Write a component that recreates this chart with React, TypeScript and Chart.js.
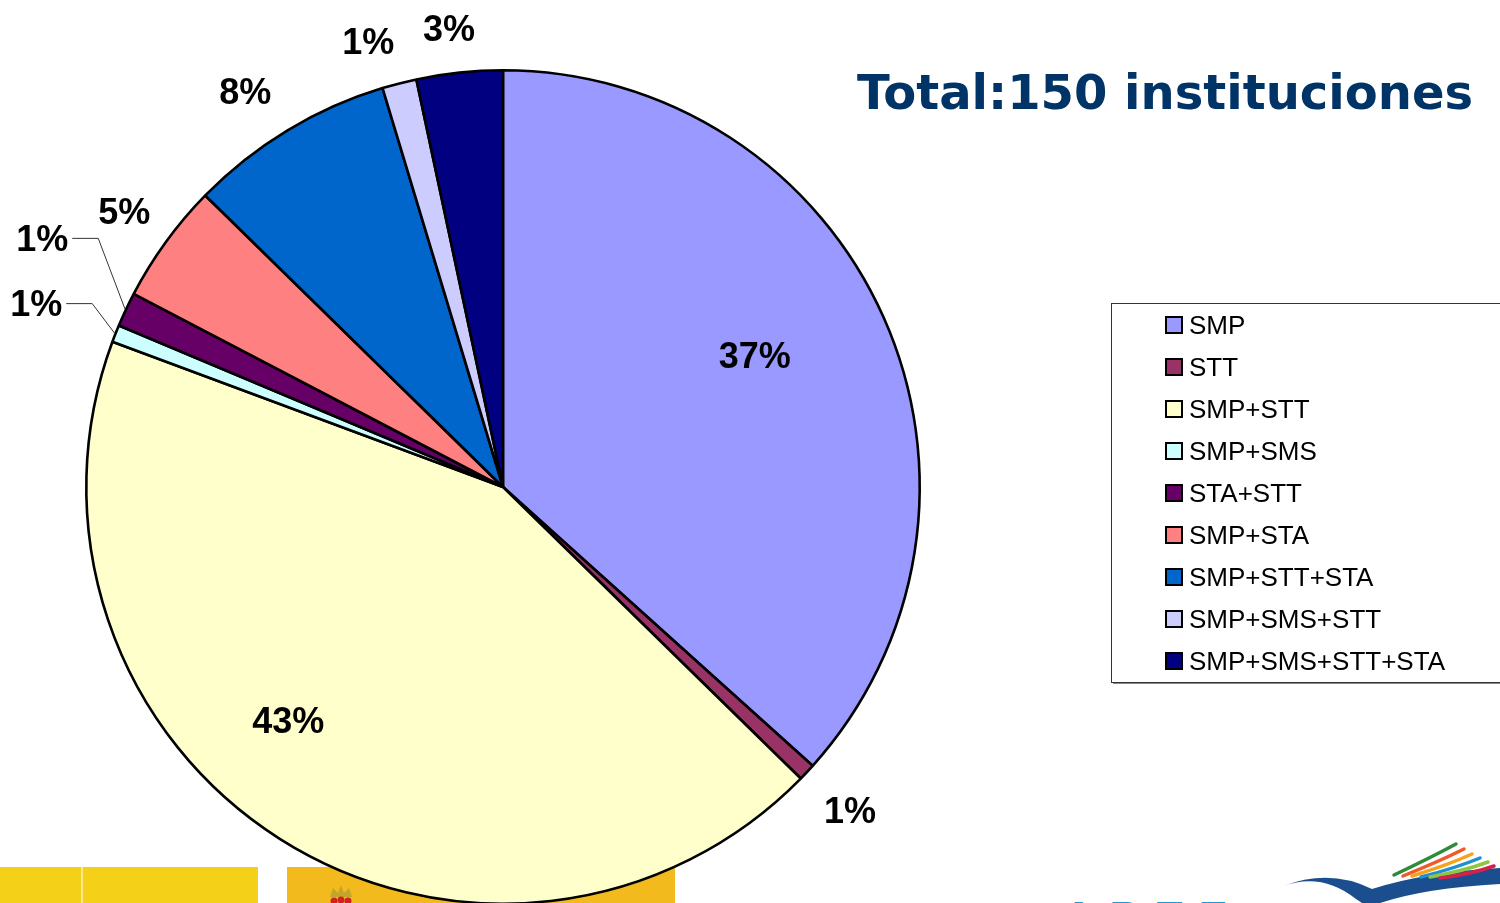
import React, { useEffect, useRef } from "react";
import { Chart, registerables } from "chart.js";

Chart.register(...registerables);

// ---- data ----
const categories = [
  "SMP",
  "STT",
  "SMP+STT",
  "SMP+SMS",
  "STA+STT",
  "SMP+STA",
  "SMP+STT+STA",
  "SMP+SMS+STT",
  "SMP+SMS+STT+STA",
];
const institutionCounts = [55, 1, 65, 1, 2, 7, 12, 2, 5];
const sliceColors = [
  "#9999FF",
  "#993366",
  "#FFFFCC",
  "#CCFFFF",
  "#660066",
  "#FF8080",
  "#0066CC",
  "#CCCCFF",
  "#000080",
];
const titleText = "Total:150 instituciones";

// ---- label placement (relative to each slice) ----
const labelRadiusFactor = [0.682, 1.137, 0.76, 1.204, 1.257, 1.125, 1.133, 1.118, 1.11];
const labelAngleShiftDeg = [-3.6, -0.3, 10.3, -0.1, 3.2, 0.1, -1.9, -2.4, -0.7];
const labelHasLeader = [false, false, false, true, true, false, false, false, false];

const CANVAS_W = 1500;
const CANVAS_H = 1000;

const overlayPlugin = {
  id: "overlay",
  afterDatasetsDraw(chart: any) {
    const ctx: CanvasRenderingContext2D = chart.ctx;
    const meta = chart.getDatasetMeta(0);
    const data: number[] = chart.data.datasets[0].data;
    const total = data.reduce((a, b) => a + b, 0);

    // percentage labels
    ctx.save();
    ctx.font = "bold 36px 'Liberation Sans', Arial, sans-serif";
    ctx.fillStyle = "#000";
    ctx.textAlign = "center";
    ctx.textBaseline = "alphabetic";
    meta.data.forEach((arc: any, i: number) => {
      const { x, y, startAngle, endAngle, outerRadius } = arc.getProps(
        ["x", "y", "startAngle", "endAngle", "outerRadius"],
        true
      );
      const mid = (startAngle + endAngle) / 2;
      const ang = mid + (labelAngleShiftDeg[i] * Math.PI) / 180;
      const r = outerRadius * labelRadiusFactor[i];
      const lx = x + r * Math.cos(ang);
      const ly = y + r * Math.sin(ang);
      const txt = Math.round((data[i] / total) * 100) + "%";
      ctx.fillText(txt, lx, ly + 13);
      if (labelHasLeader[i]) {
        const w = ctx.measureText(txt).width;
        const sx = lx + w / 2 + 4;
        const ex = x + (outerRadius + 1) * Math.cos(mid);
        const ey = y + (outerRadius + 1) * Math.sin(mid);
        ctx.save();
        ctx.strokeStyle = "#333";
        ctx.lineWidth = 1;
        ctx.beginPath();
        ctx.moveTo(sx, ly + 0.5);
        ctx.lineTo(sx + 26, ly + 0.5);
        ctx.lineTo(ex, ey);
        ctx.stroke();
        ctx.restore();
      }
    });
    ctx.restore();

    // legend box
    ctx.save();
    const bx = 1111;
    const by = 303;
    const bh = 379;
    ctx.fillStyle = "#fff";
    ctx.fillRect(bx, by, 420, bh);
    ctx.strokeStyle = "#333";
    ctx.lineWidth = 1;
    ctx.strokeRect(bx + 0.5, by + 0.5, 420, bh);
    ctx.strokeStyle = "#888";
    ctx.beginPath();
    ctx.moveTo(bx + 2, by + bh + 1.5);
    ctx.lineTo(CANVAS_W, by + bh + 1.5);
    ctx.stroke();
    ctx.font = "26px 'Liberation Sans', Arial, sans-serif";
    ctx.textAlign = "left";
    ctx.textBaseline = "alphabetic";
    chart.data.labels.forEach((lab: string, i: number) => {
      const cy = 325 + i * 42;
      ctx.fillStyle = sliceColors[i];
      ctx.fillRect(1166, cy - 8, 16, 16);
      ctx.strokeStyle = "#000";
      ctx.lineWidth = 2;
      ctx.strokeRect(1166, cy - 8, 16, 16);
      ctx.fillStyle = "#000";
      ctx.fillText(lab, 1189, cy + 9);
    });
    ctx.restore();

    // title
    ctx.save();
    ctx.font = "bold 48px 'DejaVu Sans', Verdana, sans-serif";
    ctx.fillStyle = "#003366";
    ctx.textAlign = "right";
    ctx.textBaseline = "alphabetic";
    ctx.fillText(titleText, 1473, 109);
    ctx.restore();
  },
};

function PieChart() {
  const ref = useRef<HTMLCanvasElement | null>(null);
  useEffect(() => {
    if (!ref.current) return;
    const chart = new Chart(ref.current, {
      type: "pie",
      data: {
        labels: categories,
        datasets: [
          {
            data: institutionCounts,
            backgroundColor: sliceColors,
            borderColor: "#000",
            borderWidth: 2.6,
          },
        ],
      },
      options: {
        responsive: false,
        animation: false,
        devicePixelRatio: 1,
        layout: { padding: { left: 85, top: 69, right: 579, bottom: 95 } },
        plugins: {
          legend: { display: false },
          tooltip: { enabled: false },
          title: { display: false },
        },
      },
      plugins: [overlayPlugin],
    });
    return () => chart.destroy();
  }, []);
  return (
    <canvas
      ref={ref}
      width={CANVAS_W}
      height={CANVAS_H}
      style={{ position: "absolute", left: 0, top: 0, width: CANVAS_W, height: CANVAS_H }}
    />
  );
}

export default function App() {
  return (
    <div
      style={{
        position: "absolute",
        left: 0,
        top: 0,
        width: 1500,
        height: 903,
        overflow: "hidden",
        background: "#fff",
      }}
    >
      {/* bottom decorations (behind the chart) */}
      <div style={{ position: "absolute", left: 0, top: 867, width: 258, height: 40, background: "#F5D018" }} />
      <div style={{ position: "absolute", left: 81, top: 867, width: 2, height: 40, background: "#FBE890" }} />
      <div style={{ position: "absolute", left: 287, top: 867, width: 388, height: 40, background: "#F2BA1D" }} />
      <svg
        width={1500}
        height={903}
        style={{ position: "absolute", left: 0, top: 0 }}
      >
        <g>
          <path d="M330,897 L333,888 L338,893 L341,885 L344,893 L349,888 L352,897 Z" fill="#B8A030" opacity={0.8} />
          <circle cx={334} cy={901} r={3.5} fill="#D42020" />
          <circle cx={341} cy={900} r={3.5} fill="#D42020" />
          <circle cx={348} cy={901} r={3.5} fill="#D42020" />
        </g>
        <text
          x={1062}
          y={934}
          fontSize={46}
          fontWeight="bold"
          fontFamily="'Liberation Sans', Arial, sans-serif"
          fill="#1E9AD8"
          letterSpacing={14}
        >
          APEF
        </text>
        <path
          d="M1283,886 Q1322,872 1356,899 L1362,903 L1380,903 Q1425,888 1500,884 L1500,868 Q1425,872 1372,889 Q1330,868 1283,886 Z"
          fill="#1B4E8E"
        />
        <g strokeWidth={3.5} strokeLinecap="round" fill="none">
          <path d="M1394,875 Q1430,858 1456,844" stroke="#2E8B3A" />
          <path d="M1403,876 Q1440,861 1464,849" stroke="#F05A28" />
          <path d="M1412,876 Q1448,865 1472,854" stroke="#F7A21B" />
          <path d="M1421,877 Q1456,868 1480,858" stroke="#1E90D0" />
          <path d="M1430,877 Q1464,871 1488,862" stroke="#8DC63F" />
          <path d="M1440,878 Q1472,874 1494,866" stroke="#D6204C" />
        </g>
      </svg>
      <PieChart />
    </div>
  );
}
